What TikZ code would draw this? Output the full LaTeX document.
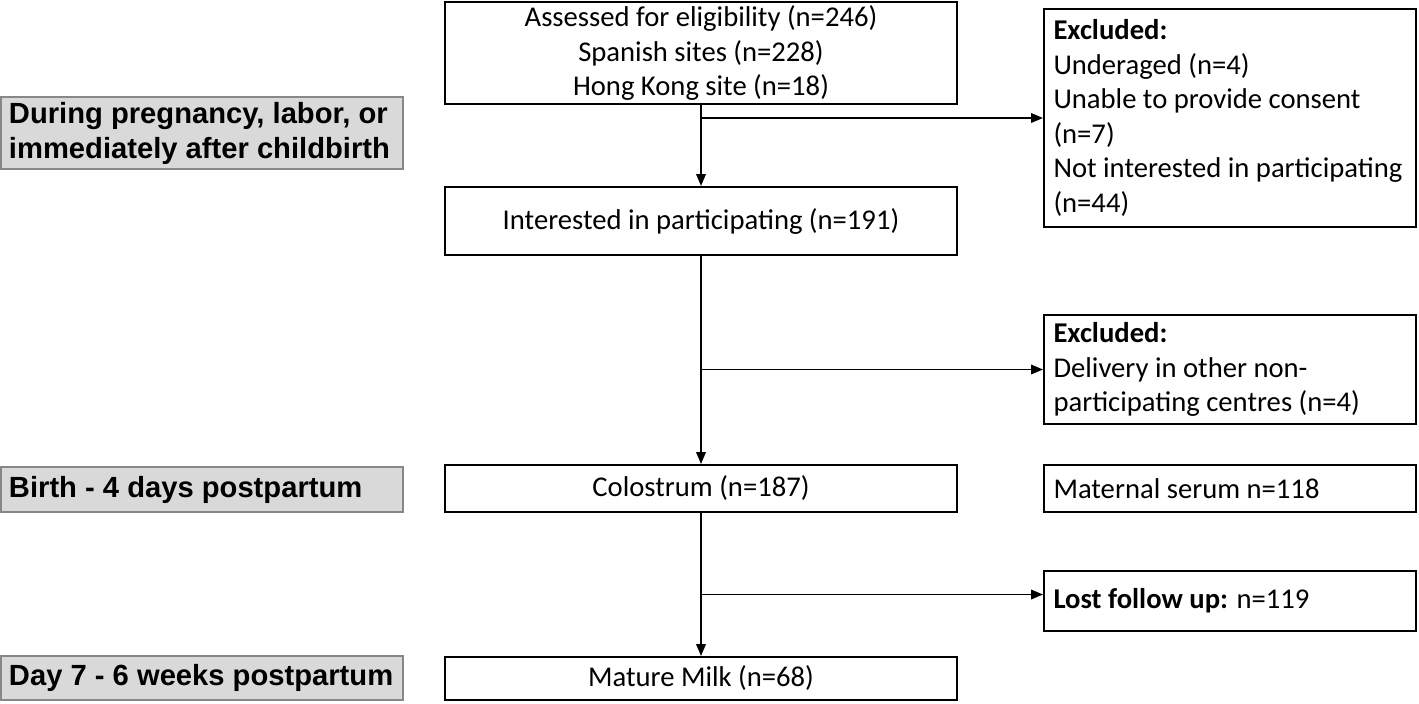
\documentclass[tikz,border=0pt]{standalone}
\usepackage{fontspec}
\setmainfont{Carlito}
\newfontfamily\arialfont{Liberation Sans}
\usepackage{xcolor}
\usetikzlibrary{arrows.meta, positioning, calc}
\definecolor{phasegray}{HTML}{D9D9D9}
\definecolor{phaseline}{HTML}{878787}

\begin{document}
\begin{tikzpicture}[
    box/.style={rectangle, draw=black, line width=1.1pt, align=center, inner sep=0pt, font=\fontsize{16.3}{19.6}\selectfont, minimum width=10.24cm},
    exbox/.style={rectangle, draw=black, line width=1.1pt, align=flush left, inner xsep=0.19cm, inner ysep=0pt, font=\fontsize{16.3}{19.6}\selectfont, text width=7.06cm},
    phase/.style={rectangle, draw=phaseline, fill=phasegray, line width=1.1pt, align=flush left, inner xsep=0.16cm, inner ysep=0pt, font=\arialfont\bfseries\fontsize{16.6}{19.9}\selectfont, text width=7.72cm},
    arr/.style={-{Triangle[length=0.24cm, width=0.19cm]}, line width=1.1pt}
]
    \useasboundingbox (0,0) rectangle (28.38,-14.06);

    % Cột giữa: các bước chính
    \node[box, minimum height=2.04cm] (assessed) at (14.02,-1.06) {Assessed for eligibility (n=246)\\Spanish sites (n=228)\\Hong Kong site (n=18)};
    \node[box, minimum height=1.36cm] (interested) at (14.02,-4.42) {Interested in participating (n=191)};
    \node[box, minimum height=0.94cm] (colostrum) at (14.02,-9.77) {Colostrum (n=187)};
    \node[box, minimum height=0.86cm] (mature) at (14.02,-13.57) {Mature Milk (n=68)};

    % Cột phải: loại trừ và mẫu phụ
    \node[exbox, minimum height=4.36cm] (excl1) at (24.6,-2.36) {\textbf{Excluded:}\\Underaged (n=4)\\Unable to provide consent\\(n=7)\\Not interested in participating\\(n=44)};
    \node[exbox, minimum height=2.18cm] (excl2) at (24.6,-7.39) {\textbf{Excluded:}\\Delivery in other non-\\participating centres (n=4)};
    \node[exbox, minimum height=0.94cm] (serum) at (24.6,-9.77) {Maternal serum n=118};
    \node[exbox, minimum height=1.2cm] (lost) at (24.6,-12.02) {\textbf{Lost follow up:} n=119};

    % Cột trái: các giai đoạn
    \node[phase, minimum height=1.44cm] (pregnancy) at (4.04,-2.66) {During pregnancy, labor, or\\immediately after childbirth};
    \node[phase, minimum height=0.9cm] (birth) at (4.04,-9.79) {Birth - 4 days postpartum};
    \node[phase, minimum height=0.88cm] (day7) at (4.04,-13.56) {Day 7 - 6 weeks postpartum};

    % Đường chính (trên xuống dưới)
    \draw[arr] (assessed) -- (interested);
    \draw[arr] (interested) -- (colostrum);
    \draw[arr] (colostrum) -- (mature);

    % Nhánh sang phải
    \draw[arr] (assessed.south |- excl1.west) -- (excl1.west);
    \draw[arr] (interested.south |- excl2.west) -- (excl2.west);
    \coordinate (lostjoin) at ($(colostrum.south)!0.57!(mature.north)$);
    \draw[arr] (lostjoin) -- (lostjoin -| lost.west);
\end{tikzpicture}
\end{document}
